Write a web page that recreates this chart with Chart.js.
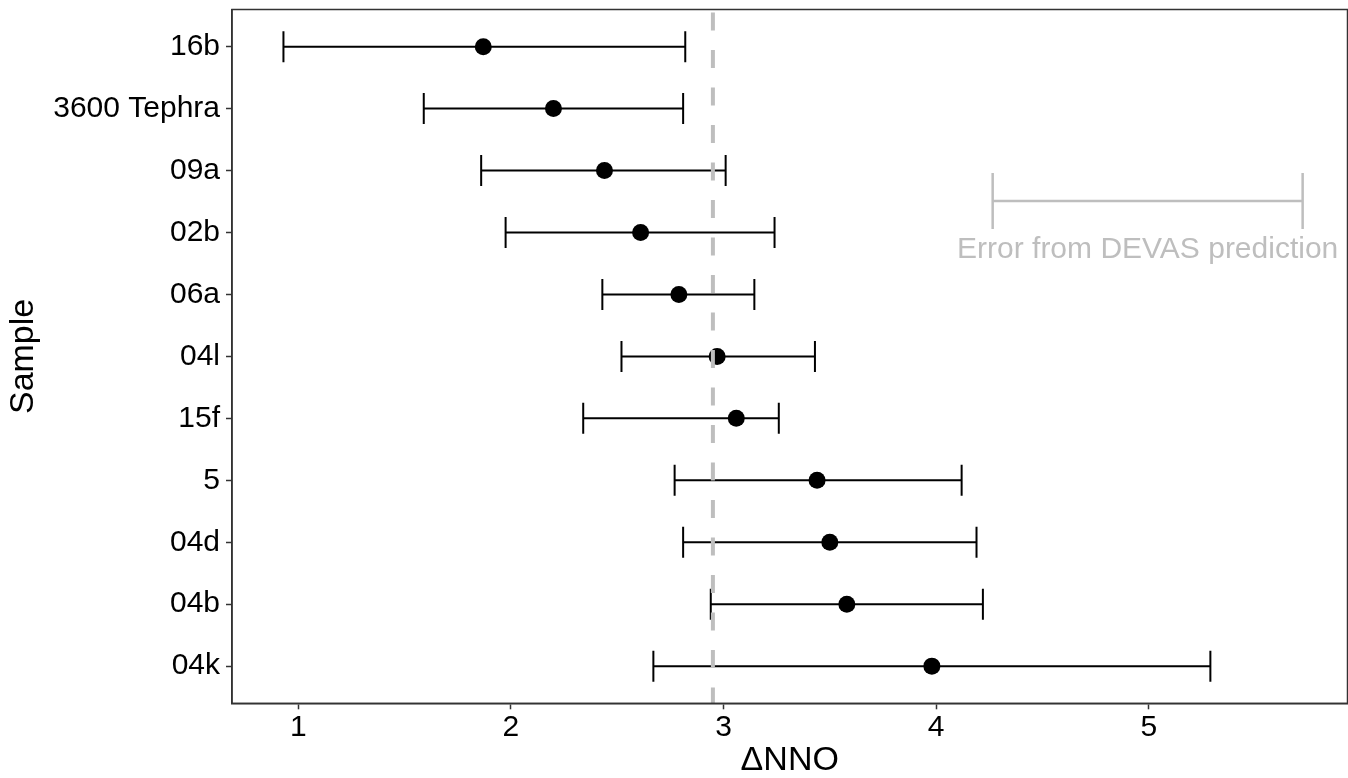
<!DOCTYPE html>
<html>
<head>
<meta charset="utf-8">
<script src="https://cdn.jsdelivr.net/npm/chart.js@4.4.1/dist/chart.umd.min.js"></script>
<style>
html,body{margin:0;padding:0;background:#ffffff;}
#wrap{width:1348px;height:778px;}
canvas{display:block;}
</style>
</head>
<body>
<div id="wrap"><canvas id="c" width="1348" height="778"></canvas></div>
<script>
// ---- data ----
const categories = ['16b', '3600 Tephra', '09a', '02b', '06a', '04l', '15f', '5', '04d', '04b', '04k'];
const estimate = [1.87, 2.20, 2.44, 2.61, 2.79, 2.97, 3.06, 3.44, 3.50, 3.58, 3.98];
const lower    = [0.93, 1.59, 1.86, 1.975, 2.43, 2.52, 2.34, 2.77, 2.81, 2.94, 2.67];
const upper    = [2.82, 2.81, 3.01, 3.24, 3.145, 3.43, 3.26, 4.12, 4.19, 4.22, 5.29];
const xTicks = [1, 2, 3, 4, 5];
const xLimits = [0.688, 5.935];
const yLimits = [-0.6, 10.6];
const referenceValue = 2.95;
const devasError = [4.266, 5.724];
const devasRow = 2.49;
const devasLabelRow = 3.28;
const devasLabel = 'Error from DEVAS prediction';
const xTitle = 'ΔNNO';
const yTitle = 'Sample';

const FONT = "'Liberation Sans', Arial, Helvetica, sans-serif";
const GREY = '#bebebe';
const AXIS = '#333333';

const datasets = [];

// reference dashed line (on top)
datasets.push({
  type: 'scatter',
  data: [{x: referenceValue, y: yLimits[0]}, {x: referenceValue, y: yLimits[1]}],
  showLine: true, borderColor: GREY, borderWidth: 4, borderDash: [18, 19.5], borderDashOffset: 34.5,
  pointRadius: 0, order: 0
});

// estimates
datasets.push({
  type: 'scatter',
  data: estimate.map((v, i) => ({x: v, y: i})),
  pointRadius: 8.5, backgroundColor: '#000000', borderWidth: 0, pointBorderWidth: 0,
  order: 1
});

// caps
datasets.push({
  type: 'scatter',
  data: lower.map((v, i) => ({x: v, y: i})).concat(upper.map((v, i) => ({x: v, y: i}))),
  pointStyle: 'line', rotation: 90, pointRadius: 15.5,
  borderColor: '#000000', pointBorderColor: '#000000', pointBorderWidth: 2,
  order: 2
});

// horizontal error bars
categories.forEach((c, i) => {
  datasets.push({
    type: 'scatter',
    data: [{x: lower[i], y: i}, {x: upper[i], y: i}],
    showLine: true, borderColor: '#000000', borderWidth: 2, pointRadius: 0,
    order: 3
  });
});

// DEVAS error annotation
datasets.push({
  type: 'scatter',
  data: [{x: devasError[0], y: devasRow}, {x: devasError[1], y: devasRow}],
  showLine: true, borderColor: GREY, borderWidth: 2.5, pointRadius: 0, order: 4
});
datasets.push({
  type: 'scatter',
  data: [{x: devasError[0], y: devasRow}, {x: devasError[1], y: devasRow}],
  pointStyle: 'line', rotation: 90, pointRadius: 28,
  pointBorderColor: GREY, borderColor: GREY, pointBorderWidth: 2.5, order: 4
});

const extras = {
  id: 'extras',
  afterDatasetsDraw(chart) {
    const ctx = chart.ctx;
    const xs = chart.scales.x, ys = chart.scales.y;
    ctx.save();
    ctx.fillStyle = GREY;
    ctx.font = '30px ' + FONT;
    ctx.textAlign = 'center';
    ctx.textBaseline = 'middle';
    ctx.fillText(devasLabel,
      xs.getPixelForValue((devasError[0] + devasError[1]) / 2),
      ys.getPixelForValue(devasLabelRow));
    ctx.restore();
  },
  afterDraw(chart) {
    const a = chart.chartArea, ctx = chart.ctx;
    ctx.save();
    ctx.strokeStyle = AXIS;
    ctx.lineWidth = 1.5;
    ctx.strokeRect(a.left, a.top, a.right - a.left, a.bottom - a.top);
    ctx.restore();
  }
};

function zeroPad(s) {
  s.paddingTop = 0; s.paddingBottom = 0; s.paddingLeft = 0; s.paddingRight = 0;
}

new Chart(document.getElementById('c'), {
  type: 'scatter',
  data: { datasets },
  options: {
    responsive: false,
    animation: false,
    devicePixelRatio: 1,
    events: [],
    layout: { autoPadding: false, padding: { top: 9.5, right: 0.5, left: 0, bottom: 0 } },
    plugins: { legend: { display: false }, tooltip: { enabled: false } },
    scales: {
      x: {
        type: 'linear',
        position: 'bottom',
        min: xLimits[0], max: xLimits[1],
        bounds: 'data',
        afterBuildTicks: s => { s.ticks = xTicks.map(v => ({value: v})); },
        afterFit: s => { s.height = 74.7; zeroPad(s); },
        ticks: {
          font: { family: FONT, size: 30, lineHeight: 1.2 },
          color: '#000000', padding: 0, autoSkip: false, maxRotation: 0, minRotation: 0,
          callback: v => String(v)
        },
        grid: { drawOnChartArea: false, tickLength: 6, tickColor: AXIS, tickWidth: 1.5 },
        border: { display: true, color: AXIS, width: 1.5 },
        title: {
          display: true, text: xTitle, color: '#000000',
          font: { family: FONT, size: 34, lineHeight: 1 }, padding: { top: 0, bottom: 0 }
        }
      },
      y: {
        type: 'linear',
        position: 'left',
        reverse: true,
        min: yLimits[0], max: yLimits[1],
        bounds: 'data',
        afterBuildTicks: s => { s.ticks = categories.map((c, i) => ({value: i})); },
        afterFit: s => { s.width = 232; zeroPad(s); },
        ticks: {
          font: { family: FONT, size: 30, lineHeight: 1.2 },
          color: '#000000', padding: 6, autoSkip: false,
          callback: v => categories[Math.round(v)]
        },
        grid: { drawOnChartArea: false, tickLength: 6, tickColor: AXIS, tickWidth: 1.5 },
        border: { display: true, color: AXIS, width: 1.5 },
        title: {
          display: true, text: yTitle, color: '#000000',
          font: { family: FONT, size: 34, lineHeight: 1 }, padding: { top: 6.5, bottom: 0 }
        }
      }
    }
  },
  plugins: [extras]
});
</script>
</body>
</html>
